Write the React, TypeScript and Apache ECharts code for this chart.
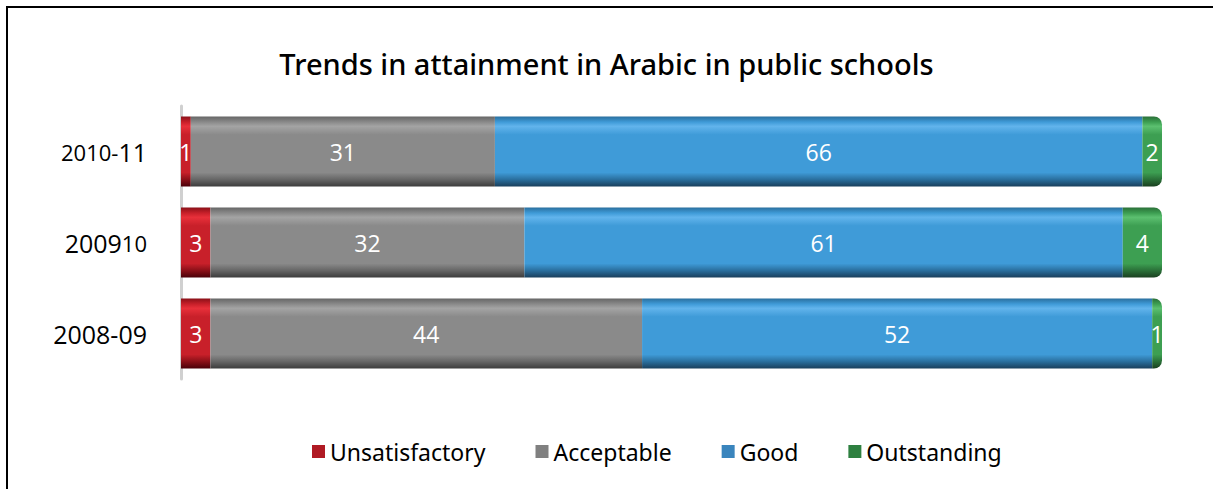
import React, { useEffect, useRef } from "react";
import * as echarts from "echarts";

const categories = ["2008-09", "200910", "2010-11"];
const unsatisfactory = [3, 3, 1];
const acceptable = [44, 32, 31];
const good = [52, 61, 66];
const outstanding = [1, 4, 2];
const seriesNames = ["Unsatisfactory", "Acceptable", "Good", "Outstanding"];

function grad(light: string, main: string, dark: string, darkest: string) {
  return new echarts.graphic.LinearGradient(0, 0, 0, 1, [
    { offset: 0, color: dark },
    { offset: 0.08, color: main },
    { offset: 0.14, color: light },
    { offset: 0.26, color: main },
    { offset: 0.8, color: main },
    { offset: 0.9, color: dark },
    { offset: 1, color: darkest },
  ]);
}

export default function App() {
  const ref = useRef<HTMLDivElement>(null);
  useEffect(() => {
    if (!ref.current) return;
    const chart = echarts.init(ref.current, null, { renderer: "svg" });
    const fills = [
      grad("#e8303a", "#c8202a", "#8a1018", "#4a0008"),
      grad("#a4a4a4", "#8a8a8a", "#666666", "#3c3c3c"),
      grad("#62b4ec", "#3f9bd8", "#2a6f9e", "#1a3f5c"),
      grad("#5cc070", "#3d9f52", "#2a7038", "#1a4020"),
    ];
    const legendColors = ["#b01a24", "#808080", "#3a85bd", "#2e8040"];
    const datas = [unsatisfactory, acceptable, good, outstanding];
    const series = datas.map((d, i) => ({
      name: seriesNames[i],
      type: "bar",
      stack: "total",
      barWidth: 70,
      data: d.map((v) => ({
        value: v,
        itemStyle: {
          color: fills[i],
          borderRadius: i === 3 ? [0, 8, 8, 0] : 0,
        },
      })),
      itemStyle: { color: legendColors[i] },
      label: {
        show: true,
        position: "inside",
        color: "#ffffff",
        fontSize: 23,
        fontFamily: "Open Sans",
        formatter: "{c}",
      },
    }));
    chart.setOption({
      animation: false,
      title: {
        text: "Trends in attainment in Arabic in public schools",
        left: "center",
        top: 44,
        textStyle: {
          fontFamily: "Noto Sans",
          fontSize: 29,
          fontWeight: 500,
          color: "#000",
        },
      },
      legend: {
        top: 435,
        left: 307,
        icon: "rect",
        itemWidth: 13,
        itemHeight: 13,
        itemGap: 50,
        textStyle: {
          fontFamily: "Noto Sans",
          fontSize: 23,
          color: "#000",
        },
        data: seriesNames,
      },
      grid: { left: 181, right: 51, top: 106, bottom: 110 },
      xAxis: {
        type: "value",
        min: 0,
        max: 100,
        show: false,
      },
      yAxis: {
        type: "category",
        data: categories,
        axisLine: { show: true, lineStyle: { color: "#d0d0d0", width: 3 } },
        axisTick: { show: false },
        axisLabel: {
          margin: 34,
          formatter: (v: string) => {
            if (v === "2010-11") return "{a|2010-}{b|11}";
            if (v === "200910") return "{b|2009}{a|10}{p|}";
            return "{b|2008-09}";
          },
          rich: {
            a: { fontFamily: "Open Sans", fontSize: 22, color: "#000" },
            b: { fontFamily: "Open Sans", fontSize: 25, color: "#000" },
            p: { width: 0 },
          },
        },
      },
      graphic: [
        {
          type: "rect",
          shape: { x: 7, y: 7, width: 1240, height: 520 },
          style: { fill: "none", stroke: "#000", lineWidth: 2 },
        },
      ],
      series,
    });
    return () => chart.dispose();
  }, []);
  return (
    <div
      ref={ref}
      style={{ position: "fixed", left: 0, top: 0, width: 1213, height: 489, background: "#fff" }}
    />
  );
}
